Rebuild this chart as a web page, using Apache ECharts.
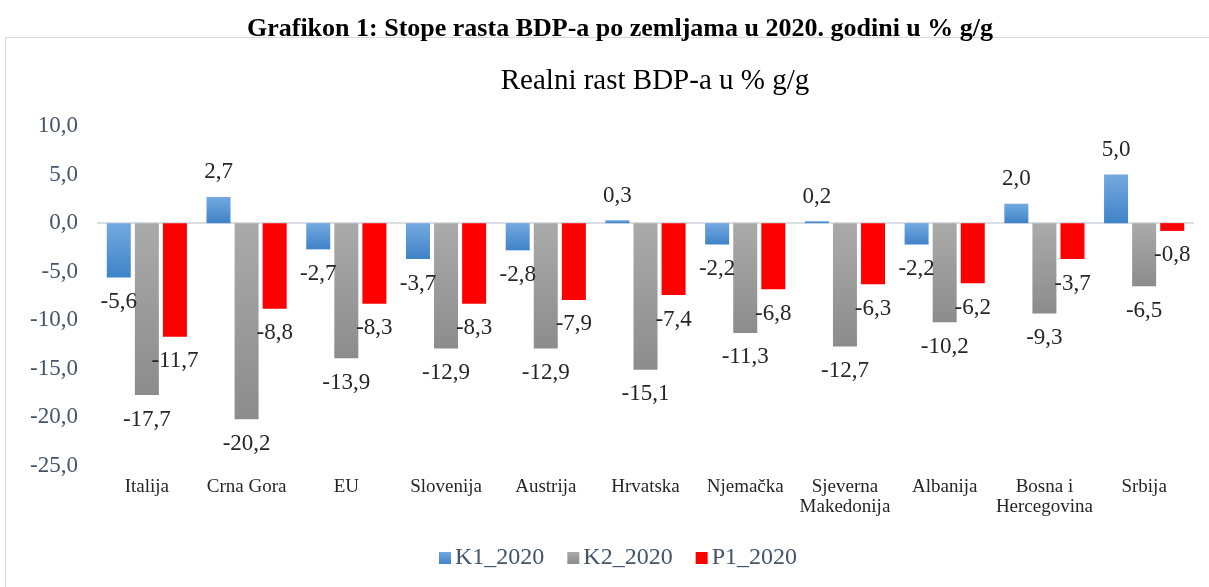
<!DOCTYPE html>
<html>
<head>
<meta charset="utf-8">
<script src="https://cdn.jsdelivr.net/npm/echarts@6/dist/echarts.min.js"></script>
<style>
  html, body { margin: 0; padding: 0; background: #fff; }
  #chart { width: 1209px; height: 587px; }
</style>
</head>
<body>
<div id="chart"></div>
<script>
const countries = ['Italija', 'Crna Gora', 'EU', 'Slovenija', 'Austrija', 'Hrvatska', 'Njemačka', 'Sjeverna\nMakedonija', 'Albanija', 'Bosna i\nHercegovina', 'Srbija']
const k1 = [-5.6, 2.7, -2.7, -3.7, -2.8, 0.3, -2.2, 0.2, -2.2, 2.0, 5.0]
const k2 = [-17.7, -20.2, -13.9, -12.9, -12.9, -15.1, -11.3, -12.7, -10.2, -9.3, -6.5]
const p1 = [-11.7, -8.8, -8.3, -8.3, -7.9, -7.4, -6.8, -6.3, -6.2, -3.7, -0.8]

const FONT = '"Liberation Serif", "Times New Roman", serif'
const comma = (v) => Number(v).toFixed(1).replace('.', ',')

const grad = (top, bottom) => new echarts.graphic.LinearGradient(0, 0, 0, 1, [
  { offset: 0, color: top },
  { offset: 1, color: bottom },
])

const valueLabel = {
  show: true,
  distance: 13,
  fontFamily: FONT,
  fontSize: 23,
  color: '#262626',
  formatter: (p) => comma(p.value),
}

const makeSeries = (name, data, color) => ({
  name,
  type: 'bar',
  data: data.map(v => ({ value: v, label: { position: v >= 0 ? 'top' : 'bottom' } })),
  barWidth: 24,
  barGap: '17%',
  itemStyle: { color },
  label: valueLabel,
})

const chart = echarts.init(document.getElementById('chart'))

chart.setOption({
  backgroundColor: '#fff',
  animation: false,
  title: [
    {
      text: 'Grafikon 1: Stope rasta BDP-a po zemljama u 2020. godini u % g/g',
      left: 615,
      top: 11,
      textAlign: 'center',
      textStyle: { fontFamily: FONT, fontSize: 26, fontWeight: 'bold', color: '#000' },
    },
    {
      text: 'Realni rast BDP-a u % g/g',
      left: 650,
      top: 62,
      textAlign: 'center',
      textStyle: { fontFamily: FONT, fontSize: 29, fontWeight: 'normal', color: '#000' },
    },
  ],
  graphic: [
    {
      type: 'rect',
      shape: { x: 5.5, y: 37.5, width: 1210, height: 560 },
      style: { fill: 'none', stroke: '#d9d9d9', lineWidth: 1 },
      z: -1,
    },
  ],
  legend: {
    data: ['K1_2020', 'K2_2020', 'P1_2020'],
    left: 434,
    top: 541,
    icon: 'rect',
    itemWidth: 12,
    itemHeight: 12,
    itemGap: 23,
    textStyle: { fontFamily: FONT, fontSize: 24, color: '#44546a', padding: [0, 0, 0, -1] },
  },
  grid: {
    left: 97,
    right: 15,
    top: 126,
    bottom: 121,
    containLabel: false,
  },
  xAxis: {
    type: 'category',
    data: countries,
    axisLine: { show: false },
    axisTick: { show: false },
    axisLabel: {
      margin: 11,
      fontFamily: FONT,
      fontSize: 19,
      color: '#262626',
      lineHeight: 20,
      interval: 0,
    },
  },
  yAxis: {
    type: 'value',
    min: -25,
    max: 10,
    interval: 5,
    axisLine: { show: false },
    axisTick: { show: false },
    splitLine: { show: false },
    axisLabel: {
      margin: 19,
      fontFamily: FONT,
      fontSize: 23,
      color: '#44546a',
      formatter: comma,
    },
  },
  series: [
    Object.assign(makeSeries('K1_2020', k1, grad('#74a9e0', '#3f83c8')), {
      markLine: {
        silent: true,
        symbol: 'none',
        label: { show: false },
        lineStyle: { color: '#d9dde6', type: 'solid', width: 2 },
        data: [{ yAxis: 0 }],
        z: 1,
      },
    }),
    makeSeries('K2_2020', k2, grad('#aaaaaa', '#8c8c8c')),
    makeSeries('P1_2020', p1, '#ff0000'),
  ],
})
</script>
</body>
</html>
